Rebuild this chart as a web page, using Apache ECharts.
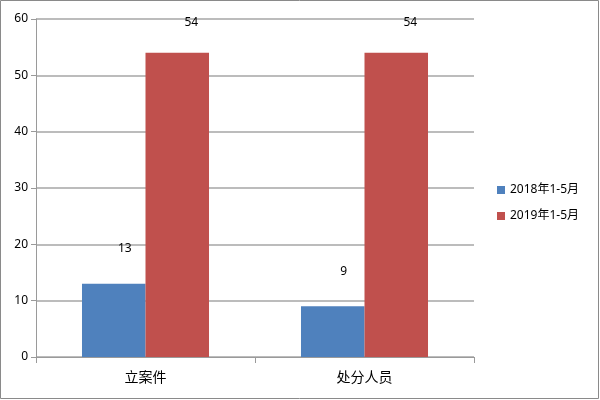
<!DOCTYPE html>
<html><head><meta charset="utf-8">
<script src="https://cdn.jsdelivr.net/npm/echarts@6/dist/echarts.min.js"></script>
<style>html,body{margin:0;padding:0;background:#fff}#c{width:600px;height:400px}</style>
</head><body><div id="c"></div>
<script>
const categories = ['立案件', '处分人员'];
const seriesNames = ['2018年1-5月', '2019年1-5月'];
const values2018 = [13, 9];
const values2019 = [54, 54];
const yTicks = [0, 10, 20, 30, 40, 50, 60];

const chart = echarts.init(document.getElementById('c'));
const font = '"Noto Sans", "Noto Sans CJK SC", sans-serif';
chart.setOption({
  animation: false,
  textStyle: { fontFamily: font },
  graphic: [{ type: 'rect', shape: { x: 0.5, y: 0.5, width: 598, height: 398 }, style: { fill: 'none', stroke: '#8a8a8a', lineWidth: 1 } }],
  grid: { left: 36, right: 126, top: 19, bottom: 43 },
  legend: {
    orient: 'vertical', left: 492, top: 179, itemWidth: 8, itemHeight: 8, itemGap: 14,
    icon: 'rect', textStyle: { fontSize: 12, color: '#000', fontFamily: font },
    data: seriesNames
  },
  xAxis: {
    type: 'category', data: categories,
    axisLine: { lineStyle: { color: '#9a9a9a', width: 1 } },
    axisTick: { show: true, length: 6, lineStyle: { color: '#9a9a9a' } },
    axisLabel: { fontSize: 14, color: '#000', margin: 14, fontFamily: font }
  },
  yAxis: {
    type: 'value', min: yTicks[0], max: yTicks[yTicks.length - 1], interval: 10,
    axisLine: { show: true, lineStyle: { color: '#9a9a9a', width: 1 } },
    axisTick: { show: true, length: 5, lineStyle: { color: '#9a9a9a' } },
    axisLabel: { fontSize: 12, color: '#000', margin: 8, fontFamily: font },
    splitLine: { lineStyle: { color: '#a6a6a6', width: 1.5 } }
  },
  series: [
    { name: seriesNames[0], type: 'bar', data: values2018, barGap: '0%', barCategoryGap: '42%',
      itemStyle: { color: '#4f81bd' },
      label: { show: true, position: 'top', distance: 29, offset: [11, 0], fontSize: 12, color: '#000', fontFamily: font } },
    { name: seriesNames[1], type: 'bar', data: values2019, barGap: '0%', barCategoryGap: '42%',
      itemStyle: { color: '#c0504d' },
      label: { show: true, position: 'top', distance: 24, offset: [14, 0], fontSize: 12, color: '#000', fontFamily: font } }
  ]
});
</script></body></html>
